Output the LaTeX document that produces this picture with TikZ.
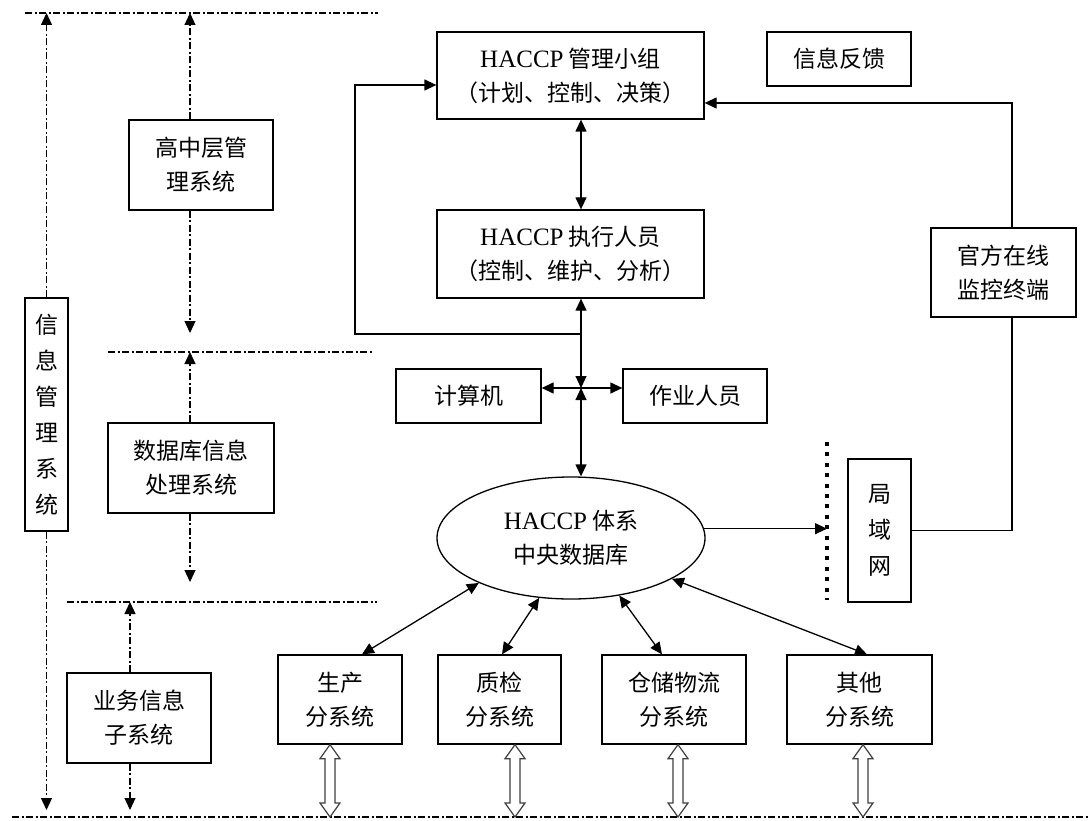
\documentclass[tikz,border=0pt]{standalone}
\usepackage{fontspec}
\setmainfont{Liberation Serif}
\newfontfamily\cjk{Noto Sans CJK SC}
\usetikzlibrary{arrows.meta,calc,shapes.geometric}
\tikzset{
  box/.style={draw, line width=1.3pt, inner sep=0pt, align=center,
    font=\cjk\fontsize{23}{34}\selectfont},
  vbox/.style={box, font=\cjk\fontsize{23}{36}\selectfont},
  tipA/.tip={Triangle[length=12pt,width=11pt]},
  arr/.style={line width=1.3pt, -tipA},
  darr/.style={line width=1.3pt, tipA-tipA},
  plain/.style={line width=1.3pt},
  sep/.style={line width=1.2pt, dash pattern=on 7pt off 2.5pt on 2pt off 2.5pt},
  sarr/.style={sep, -tipA},
  hol/.style={line width=1.2pt, draw=black!75, fill=white},
  dots/.style={line width=4pt, dash pattern=on 4pt off 6.4pt},
}
\newcommand\en[1]{{\rmfamily\fontsize{25}{34}\selectfont #1}}
\newcommand\hollowarrow[1]{%
  \draw[hol] (#1) -- ++(10,14) -- ++(-5,0) -- ($(#1 |- bl)+(5,-14)$) -- ++(5,0)
    -- (#1 |- bl) -- ++(-10,-14) -- ++(5,0) -- ($(#1)+(-5,14)$) -- ++(-5,0) -- cycle;}
\begin{document}
\begin{tikzpicture}[x=1pt,y=-1pt]
\useasboundingbox[fill=white] (0,0) rectangle (1089,821);

% ---------- helper coordinates ----------
\coordinate (c1) at (46,0);
\coordinate (c2) at (190,0);
\coordinate (c3) at (130,0);
\coordinate (t1) at (0,13);
\coordinate (t2) at (0,352);
\coordinate (t3) at (0,602);
\coordinate (a1) at (0,333);
\coordinate (a2) at (0,582);
\coordinate (bt) at (0,810);
\coordinate (bl) at (0,817);

% ---------- separator lines ----------
\draw[sep] (25,13) -- (378,13);
\draw[sep] (108,352) -- (372,352);
\draw[sep] (67,602) -- (377,602);
\draw[sep] (12,817) -- (1089,817);

% ---------- left column ----------
\node[vbox, minimum width=43, minimum height=233] (im) at (46.5,414.5) {信\\息\\管\\理\\系\\统};
\node[box, minimum width=144, minimum height=90] (hm) at (201,165) {高中层管\\理系统};
\node[box, minimum width=166, minimum height=90] (dbs) at (191,468) {数据库信息\\处理系统};
\node[box, minimum width=144, minimum height=90] (bs) at (139,718) {业务信息\\子系统};

\draw[sarr] (im.north) -- (im.north |- t1);
\draw[sarr] (im.south) -- (im.south |- bt);
\draw[sarr] (hm.north -| c2) -- (c2 |- t1);
\draw[sarr] (hm.south -| c2) -- (c2 |- a1);
\draw[sarr] (dbs.north -| c2) -- (c2 |- t2);
\draw[sarr] (dbs.south -| c2) -- (c2 |- a2);
\draw[sarr] (bs.north -| c3) -- (c3 |- t3);
\draw[sarr] (bs.south -| c3) -- (c3 |- bt);

% ---------- main nodes ----------
\node[box, minimum width=267, minimum height=87] (b1) at (570.5,75.5) {\en{HACCP} 管理小组\\（计划、控制、决策）};
\node[box, minimum width=267, minimum height=88] (b2) at (570.5,254) {\en{HACCP} 执行人员\\（控制、维护、分析）};
\node[box, minimum width=144, minimum height=54] (fb) at (839,59) {信息反馈};
\node[box, minimum width=145, minimum height=89] (gf) at (1003.5,272.5) {官方在线\\监控终端};
\node[box, minimum width=145, minimum height=54] (pc) at (468.5,396) {计算机};
\node[box, minimum width=144, minimum height=54] (op) at (695,396) {作业人员};
\node[draw, ellipse, line width=1.3pt, inner sep=0pt, minimum width=268, minimum height=122,
      align=center, font=\cjk\fontsize{23}{34}\selectfont] (db) at (571,538) {\en{HACCP} 体系\\中央数据库};
\node[vbox, minimum width=63, minimum height=143] (lan) at (879.5,530.5) {局\\域\\网};
\node[box, minimum width=124, minimum height=89] (sc) at (340,699.5) {生产\\分系统};
\node[box, minimum width=123, minimum height=89] (qc) at (499.5,699.5) {质检\\分系统};
\node[box, minimum width=144, minimum height=89] (wl) at (674,699.5) {仓储物流\\分系统};
\node[box, minimum width=145, minimum height=89] (ot) at (859.5,699.5) {其他\\分系统};

% ---------- connectors ----------
\coordinate (jn) at (581,388);
\coordinate (lp) at (581,334);
\coordinate (lc) at (355,334);
\coordinate (la) at (0,85);
\coordinate (rt) at (1012,103);
\coordinate (dl) at (827,0);

\draw[darr] (b1.south -| jn) -- (b2.north -| jn);
\draw[darr] (b2.south -| jn) -- (jn);
\draw[darr] (db.north -| jn) -- (jn);
\draw[arr] (jn) -- (jn -| pc.east);
\draw[arr] (jn) -- (jn -| op.west);
\draw[arr] (lp) -- (lc) |- (b1.west |- la);

\draw[arr] (db.4) -- (db.4 -| dl);
\draw[dots] (827,442) -- (827,600);
\draw[plain] (lan.east) -| (rt |- gf.south);
\draw[arr] (gf.north -| rt) |- (b1.east |- rt);

\draw[darr] ([xshift=22]sc.north) -- (db.206);
\draw[darr] ([xshift=2.5]qc.north) -- (db.242);
\draw[darr] ([xshift=-12]wl.north) -- (db.310);
\draw[darr] ([xshift=7.5]ot.north) -- (db.338);

% ---------- hollow double arrows ----------
\coordinate (h1) at ([xshift=-10]sc.south);
\coordinate (h2) at ([xshift=15.5]qc.south);
\coordinate (h3) at ([xshift=4]wl.south);
\coordinate (h4) at ([xshift=3.5]ot.south);
\hollowarrow{h1}
\hollowarrow{h2}
\hollowarrow{h3}
\hollowarrow{h4}
\end{tikzpicture}
\end{document}
